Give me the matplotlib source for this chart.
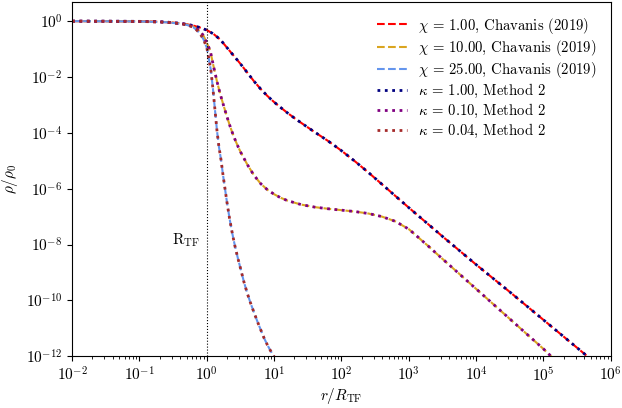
import matplotlib
matplotlib.use("Agg")
import matplotlib.pyplot as plt
import numpy as np
from matplotlib.ticker import NullLocator, LogLocator

plt.rcParams["font.family"] = "serif"
plt.rcParams["font.serif"] = ["cmr10"]
plt.rcParams["mathtext.fontset"] = "cm"
plt.rcParams["axes.formatter.use_mathtext"] = True
plt.rcParams["font.size"] = 10

# density profiles, stored as log10 values (r/R_TF, rho/rho_0)
logr_1 = [-2.0, -1.5, -1.0, -0.8, -0.6, -0.5, -0.4, -0.3, -0.2, -0.1, 0.0, 0.1,
          0.2, 0.3, 0.4, 0.5, 0.6, 0.7, 0.8, 0.9, 1.0, 1.1, 1.2, 1.3, 1.4, 1.6,
          1.8, 2.0, 2.2, 2.4, 2.6, 2.8, 3.0, 3.5, 4.0, 4.5, 5.0, 5.5, 5.66]
logrho_1 = [0.0, -0.002, -0.008, -0.015, -0.035, -0.055, -0.08, -0.11, -0.16,
            -0.23, -0.32, -0.46, -0.66, -0.95, -1.24, -1.53, -1.84, -2.15,
            -2.43, -2.68, -2.90, -3.10, -3.29, -3.47, -3.64, -3.97, -4.29,
            -4.64, -5.02, -5.42, -5.84, -6.26, -6.68, -7.71, -8.72, -9.70,
            -10.70, -11.70, -12.02]

logr_10 = [-2.0, -1.0, -0.6, -0.4, -0.3, -0.2, -0.1, -0.05, 0.0, 0.05, 0.1, 0.15,
           0.2, 0.25, 0.3, 0.35, 0.4, 0.45, 0.5, 0.6, 0.7, 0.8, 0.9, 1.0, 1.1,
           1.2, 1.4, 1.6, 1.8, 2.0, 2.2, 2.4, 2.6, 2.8, 3.0, 3.12, 3.2, 3.3,
           3.4, 3.6, 3.8, 4.0, 4.2, 4.4, 4.6, 4.8, 5.0, 5.12]
logrho_10 = [0.0, -0.008, -0.035, -0.08, -0.12, -0.20, -0.36, -0.52, -0.78,
             -1.05, -1.62, -2.15, -2.62, -3.03, -3.43, -3.80, -4.13, -4.42,
             -4.68, -5.13, -5.52, -5.82, -6.04, -6.20, -6.33, -6.43, -6.57,
             -6.66, -6.72, -6.77, -6.82, -6.89, -7.00, -7.17, -7.45, -7.70,
             -7.87, -8.08, -8.30, -8.73, -9.16, -9.59, -10.02, -10.45, -10.88,
             -11.31, -11.74, -12.02]

logr_25 = [-2.0, -1.0, -0.6, -0.4, -0.3, -0.2, -0.15, -0.1, -0.05, 0.0, 0.03,
           0.06, 0.09, 0.12, 0.15, 0.18, 0.21, 0.24, 0.27, 0.30, 0.34, 0.38,
           0.42, 0.46, 0.50, 0.55, 0.60, 0.65, 0.70, 0.75, 0.80, 0.85, 0.90,
           0.95, 1.0]
logrho_25 = [0.0, -0.01, -0.04, -0.09, -0.13, -0.22, -0.32, -0.45, -0.65, -0.95,
             -1.35, -1.75, -2.40, -3.15, -3.90, -4.50, -4.95, -5.50, -6.00,
             -6.50, -7.10, -7.62, -8.08, -8.48, -8.85, -9.33, -9.74, -10.10,
             -10.43, -10.75, -11.05, -11.35, -11.60, -11.82, -12.02]

chis = [1.00, 10.00, 25.00]
kappas = [1.00, 0.10, 0.04]
chi_colors = ["red", "goldenrod", "cornflowerblue"]
kappa_colors = ["navy", "purple", "#a52a2a"]
profiles = [(logr_1, logrho_1), (logr_10, logrho_10), (logr_25, logrho_25)]

fig, ax = plt.subplots(figsize=(6.22, 4.08), dpi=100)
fig.subplots_adjust(left=0.116, right=0.982, bottom=0.127, top=0.996)

for chi, c, (lr, lrho) in zip(chis, chi_colors, profiles):
    ax.plot(10 ** np.array(lr), 10 ** np.array(lrho), ls="--", lw=1.5, color=c,
            label=rf"$\chi$ = {chi:.2f}, Chavanis (2019)")
for kappa, c, (lr, lrho) in zip(kappas, kappa_colors, profiles):
    ax.plot(10 ** np.array(lr), 10 ** np.array(lrho), ls=":", lw=2, color=c,
            label=rf"$\kappa$ = {kappa:.2f}, Method 2")

ax.axvline(1.0, color="black", ls=":", lw=0.8)
ax.text(0.8, 1.4e-8, r"$\mathrm{R}_{\mathrm{TF}}$", ha="right", va="center", fontsize=11)

ax.set_xscale("log")
ax.set_yscale("log")
ax.set_xlim(1e-2, 1e6)
ax.set_ylim(1e-12, 5)
ax.set_xticks([10.0 ** k for k in range(-2, 7)])
ax.xaxis.set_minor_locator(LogLocator(base=10, subs=np.arange(2, 10), numticks=20))
ax.set_yticks([10.0 ** k for k in range(-12, 1, 2)])
ax.yaxis.set_minor_locator(NullLocator())
ax.tick_params(labelsize=11)

ax.set_xlabel(r"$r/R_{\rm TF}$", fontsize=11, labelpad=1)
ax.set_ylabel(r"$\rho/\rho_0$", fontsize=11)

ax.legend(loc="upper right", frameon=False, fontsize=10.6, labelspacing=0.14,
          borderaxespad=0.55, handlelength=2.0)

fig.savefig("out.png", dpi=100)
